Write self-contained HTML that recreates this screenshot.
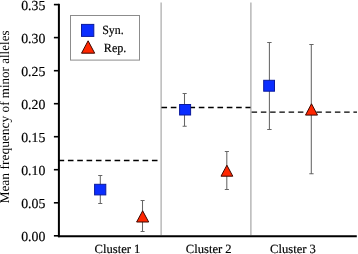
<!DOCTYPE html>
<html><head><meta charset="utf-8"><style>
html,body{margin:0;padding:0;background:#fff;width:358px;height:254px;overflow:hidden}
svg{display:block;position:absolute;left:0;top:0;will-change:transform}
text{font-family:"Liberation Serif",serif;fill:#000;text-rendering:geometricPrecision}
.b text{stroke:#000;stroke-width:0.18px}
</style></head><body>
<svg width="358" height="254" viewBox="0 0 358 254">
<!-- separators -->
<line x1="161.1" y1="2.5" x2="161.1" y2="235" stroke="#a0a0a0" stroke-width="1.1"/>
<line x1="250.9" y1="2.5" x2="250.9" y2="235" stroke="#a6a6a6" stroke-width="1.2"/>
<!-- dashed mean lines -->
<line x1="58.57" y1="160.5" x2="157.6" y2="160.5" stroke="#000" stroke-width="1.4" stroke-dasharray="5.6 3.733"/>
<line x1="161.47" y1="107.5" x2="250.5" y2="107.5" stroke="#000" stroke-width="1.4" stroke-dasharray="5.6 3.733"/>
<line x1="251.6" y1="112.1" x2="357" y2="112.1" stroke="#000" stroke-width="1.4" stroke-dasharray="5.5 3.755"/>
<!-- axes -->
<line x1="58.9" y1="3.8" x2="58.9" y2="237.2" stroke="#000" stroke-width="2"/>
<line x1="57.9" y1="236.2" x2="356.8" y2="236.2" stroke="#000" stroke-width="2"/>
<g stroke="#000" stroke-width="1.6">
<line x1="53.9" y1="4.6" x2="59" y2="4.6"/>
<line x1="53.9" y1="37.6" x2="59" y2="37.6"/>
<line x1="53.9" y1="70.7" x2="59" y2="70.7"/>
<line x1="53.9" y1="103.7" x2="59" y2="103.7"/>
<line x1="53.9" y1="136.7" x2="59" y2="136.7"/>
<line x1="53.9" y1="169.7" x2="59" y2="169.7"/>
<line x1="53.9" y1="202.8" x2="59" y2="202.8"/>
<line x1="53.9" y1="235.8" x2="59" y2="235.8"/>
</g>
<!-- tick labels -->
<g class="b" font-size="13.8" text-anchor="end">
<text x="45.3" y="9.7">0.35</text>
<text x="45.3" y="42.7">0.30</text>
<text x="45.3" y="75.8">0.25</text>
<text x="45.3" y="108.8">0.20</text>
<text x="45.3" y="141.8">0.15</text>
<text x="45.3" y="174.8">0.10</text>
<text x="45.3" y="207.9">0.05</text>
<text x="45.3" y="240.9">0.00</text>
</g>
<!-- y label -->
<g font-size="13.3" transform="translate(9.4 0) rotate(-90)">
<text x="-203.6" y="0" textLength="87.9" lengthAdjust="spacingAndGlyphs">Mean frequency</text>
<text x="-112.4" y="0" textLength="81.9" lengthAdjust="spacingAndGlyphs">of minor alleles</text>
</g>
<!-- x labels -->
<g class="b" font-size="12.6" text-anchor="middle">
<text x="117.5" y="253.3">Cluster 1</text>
<text x="208.7" y="253.3">Cluster 2</text>
<text x="293" y="253.3">Cluster 3</text>
</g>
<!-- error bars -->
<g stroke="#666" stroke-width="1.05" fill="none">
<path d="M100.3 175.5V203.5M98.2 175.5H102.3M98.2 203.5H102.3"/>
<path d="M142.5 200.5V231.4M140.6 200.5H144.6M140.6 231.4H144.6"/>
<path d="M184.5 93.4V126.2M182.6 93.4H186.7M182.6 126.2H186.7"/>
<path d="M226.8 151.5V189.5M224.8 151.5H228.9M224.8 189.5H228.9"/>
<path d="M269.4 42.4V129.5M267.2 42.4H271.6M267.2 129.5H271.6"/>
<path d="M311.3 44.5V173.8M309.3 44.5H313.6M309.3 173.8H313.6"/>
</g>
<!-- markers -->
<g fill="#0a2dff" stroke="#0b1a9e" stroke-width="1">
<rect x="94.6" y="184.3" width="11.2" height="10.6"/>
<rect x="179.6" y="104.5" width="11" height="10.5"/>
<rect x="263.7" y="80.3" width="10.8" height="10.9"/>
<rect x="81.5" y="24.4" width="12.3" height="12"/>
</g>
<g fill="#ff2600" stroke="#3d0800" stroke-width="1">
<path d="M142.65 210.8L148.7 222H136.6Z"/>
<path d="M226.9 165.2L232.8 176.2H221Z"/>
<path d="M311.5 103.8L317.5 115.1H305.5Z"/>
<path d="M88.1 40.8L94.7 53.2H81.5Z"/>
</g>
<!-- legend -->
<rect x="70.5" y="15.5" width="69" height="44.6" fill="none" stroke="#8c8c8c" stroke-width="1"/>
<g class="b" font-size="12.6">
<text x="102.2" y="34.2" textLength="21.5" lengthAdjust="spacingAndGlyphs">Syn.</text>
<text x="103.8" y="51.6" textLength="22.6" lengthAdjust="spacingAndGlyphs">Rep.</text>
</g>
</svg>
</body></html>
